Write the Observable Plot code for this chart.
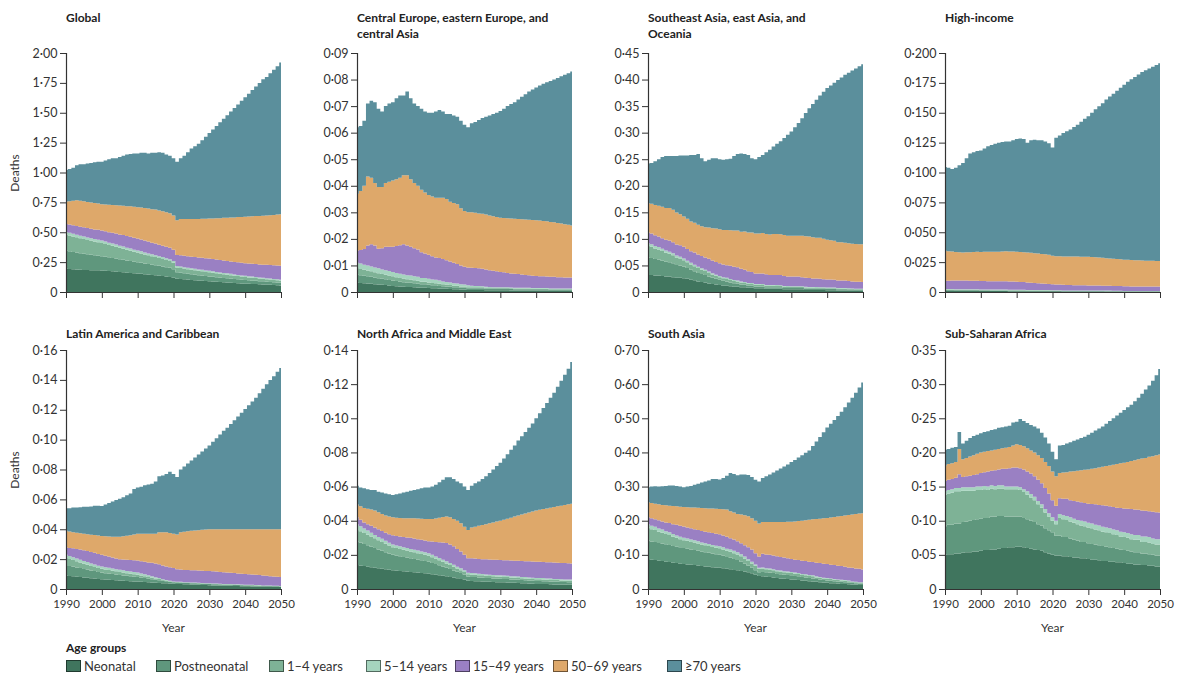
<!DOCTYPE html>
<html><head><meta charset="utf-8">
<script src="https://cdn.jsdelivr.net/npm/d3@7"></script>
<script src="https://cdn.jsdelivr.net/npm/@observablehq/plot@0.6"></script>
<style>
body{margin:0;background:#fff;font-family:Lato,"Liberation Sans",sans-serif;color:#2a2a2a;}
#root{position:relative;width:1178px;height:677px;overflow:hidden;background:#fff;}
.title{position:absolute;font-weight:700;font-size:12px;line-height:16px;color:#222;white-space:nowrap;}
.lab{position:absolute;font-size:12px;color:#333;white-space:nowrap;}
.deaths{position:absolute;font-size:12px;color:#333;white-space:nowrap;}
.leg{position:absolute;font-size:13px;color:#333;white-space:nowrap;line-height:16px;}
.sw{position:absolute;width:13px;height:10px;border:1px solid rgba(0,0,0,0.5);}
svg{position:absolute;}
</style></head><body><div id="root"></div>
<script>
// ---- categories ----
const YEARS = Array.from({length: 61}, (_, i) => 1990 + i);
const YEAR_TICKS = [1990, 2000, 2010, 2020, 2030, 2040, 2050];
const GROUPS = ["Neonatal", "Postneonatal", "1–4 years", "5–14 years", "15–49 years", "50–69 years", "≥70 years"];
const COLORS = ["#40755e", "#5f977d", "#7eb296", "#a5d4be", "#9a80c3", "#dea86a", "#5b8f9c"];

// ---- values, thousands of deaths, 1990..2050 ----
// Global
const glo_neo = [195,193,191,189,187,185,184,183,182,181,180,178,175,173,170,168,165,162,160,157,155,152,149,146,143,140,137,134,130,126,120,110,108,106,104,101,99,97,95,92,90,88,86,84,82,80,78,76,74,72,70,69,67,66,64,63,61,60,58,57,55];
const glo_pne = [150,147,144,141,138,135,132,129,126,123,120,117,115,112,110,107,105,102,100,97,95,93,90,88,86,84,82,80,78,76,70,55,53,51,49,47,46,44,43,41,40,39,38,37,36,35,34,33,32,31,30,29,28,28,27,26,25,24,24,23,22];
const glo_c14 = [135,133,130,128,125,123,120,118,115,113,110,107,104,101,98,95,92,89,86,83,80,78,75,73,70,68,65,63,60,58,55,40,40,39,38,38,37,36,36,35,35,34,33,32,31,30,29,28,27,26,25,24,24,23,22,21,21,20,19,19,18];
const glo_c514 = [22,22,22,21,21,21,21,20,20,20,20,20,19,19,19,18,18,18,18,17,17,17,17,16,16,16,15,15,15,15,14,12,12,12,12,12,12,12,12,12,12,12,11,11,11,11,11,10,10,10,10,10,10,9,9,9,9,9,8,8,8];
const glo_a1549 = [68,70,72,73,75,77,78,80,81,83,84,86,88,90,92,94,96,97,99,100,100,100,99,99,98,97,96,96,95,95,95,93,94,95,96,97,98,99,101,102,103,103,103,103,104,104,104,104,105,105,105,106,107,108,109,110,111,112,114,115,117];
const glo_a5069 = [187,195,205,215,218,218,219,219,220,220,221,225,229,233,237,242,246,250,255,259,263,267,272,276,280,285,287,288,289,290,286,290,303,307,311,315,319,323,327,331,335,340,346,351,357,362,368,373,379,384,390,394,398,402,406,410,414,418,422,426,430];
const glo_a70 = [263,270,276,293,306,311,321,331,341,350,355,367,380,392,394,406,418,432,437,447,450,458,463,462,472,475,488,489,483,480,480,490,510,530,560,590,609,629,656,687,715,744,773,802,829,858,886,916,943,972,1000,1028,1056,1084,1113,1141,1159,1187,1215,1242,1270];

// Central Europe, eastern Europe, and central Asia
const cee_neo = [3.5,3.4,3.3,3.2,3.1,2.9,2.8,2.7,2.6,2.4,2.3,2.2,2.1,2.0,1.9,1.9,1.8,1.7,1.6,1.6,1.5,1.4,1.4,1.3,1.2,1.2,1.1,1.0,1.0,0.9,0.9,0.8,0.8,0.8,0.8,0.8,0.7,0.7,0.7,0.7,0.7,0.7,0.7,0.6,0.6,0.6,0.6,0.6,0.6,0.6,0.6,0.6,0.6,0.6,0.5,0.5,0.5,0.5,0.5,0.5,0.5];
const cee_pne = [3.0,2.9,2.8,2.7,2.6,2.5,2.4,2.3,2.2,2.1,2.0,1.9,1.8,1.7,1.6,1.6,1.5,1.4,1.3,1.3,1.2,1.1,1.1,1.0,1.0,0.9,0.9,0.8,0.8,0.7,0.7,0.6,0.6,0.6,0.6,0.6,0.5,0.5,0.5,0.5,0.5,0.5,0.5,0.5,0.4,0.4,0.4,0.4,0.4,0.4,0.4,0.4,0.4,0.4,0.3,0.3,0.3,0.3,0.3,0.3,0.3];
const cee_c14 = [2.5,2.4,2.3,2.2,2.1,2.0,1.9,1.8,1.7,1.7,1.6,1.5,1.4,1.4,1.3,1.2,1.1,1.1,1.0,1.0,0.9,0.9,0.8,0.8,0.7,0.7,0.6,0.6,0.6,0.5,0.5,0.4,0.4,0.4,0.4,0.4,0.4,0.3,0.3,0.3,0.3,0.3,0.3,0.3,0.3,0.3,0.3,0.3,0.3,0.2,0.2,0.2,0.2,0.2,0.2,0.2,0.2,0.2,0.2,0.2,0.2];
const cee_c514 = [2.0,2.0,1.9,1.9,1.8,1.8,1.8,1.7,1.7,1.7,1.6,1.6,1.6,1.5,1.5,1.5,1.5,1.5,1.4,1.4,1.4,1.3,1.3,1.2,1.1,1.0,1.0,0.9,0.8,0.8,0.7,0.7,0.6,0.5,0.5,0.4,0.4,0.4,0.3,0.3,0.3,0.3,0.3,0.3,0.3,0.3,0.3,0.3,0.3,0.3,0.3,0.3,0.3,0.3,0.3,0.3,0.3,0.3,0.3,0.3,0.3];
const cee_a1549 = [4.5,5.1,5.9,7.5,8.4,8.3,7.4,8.0,8.8,9.1,9.5,10.1,10.7,11.4,11.2,10.8,10.6,10.3,9.7,9.2,9.0,8.8,8.4,8.5,8.4,8.2,7.9,7.7,7.3,7.1,6.7,6.7,6.7,6.7,6.6,6.6,6.5,6.3,6.2,6.0,5.7,5.6,5.4,5.3,5.3,5.2,5.0,4.8,4.7,4.6,4.5,4.4,4.4,4.3,4.4,4.4,4.3,4.3,4.2,4.2,4.2];
const cee_a5069 = [21.5,22.2,23.8,26.0,25.0,23.5,23.2,23.0,24.0,24.5,25.0,25.2,25.4,26.0,26.5,25.5,24.5,24.0,23.5,23.0,22.5,22.5,22.5,22.7,23.1,23.0,22.5,22.5,22.5,21.5,21.0,20.8,20.9,20.8,20.7,20.7,20.7,20.6,20.5,20.4,20.5,20.5,20.6,20.7,20.7,20.7,20.8,20.9,20.9,21.0,21.0,21.0,20.8,20.8,20.7,20.6,20.4,20.2,20.0,19.8,19.5];
const cee_a70 = [25.0,24.5,24.5,27.5,29.0,30.5,29.5,28.5,29.0,29.5,29.5,30.5,31.0,30.0,31.5,30.5,30.0,30.0,30.5,30.5,31.0,31.5,32.5,33.0,32.5,32.0,33.0,33.0,33.0,33.0,32.5,32.0,33.5,34.2,35.2,36.0,36.8,37.7,38.5,39.3,40.2,41.1,42.2,43.1,43.9,45.0,46.1,47.2,48.3,49.2,50.0,50.9,51.7,52.4,53.1,53.7,54.6,55.4,56.3,57.1,58.0];

// Southeast Asia, east Asia, and Oceania
const sea_neo = [32,32,31,31,30,29,29,28,27,27,26,25,23,22,20,19,18,16,15,14,13,12,12,11,10,10,9,9,8,8,7,7,7,6,6,6,6,6,5,5,5,5,5,5,4,4,4,4,4,4,3.5,3.5,3.5,3,3,3,3,3,2.5,2.5,2.5];
const sea_pne = [33,32,31,30,29,28,27,26,24,23,22,20,19,17,16,15,14,13,12,11,10,9,8,7,6.5,6,5,4.5,4,4,3.5,3.5,3.5,3,3,3,3,3,2.5,2.5,2.5,2.5,2.5,2.5,2.5,2,2,2,2,2,2,2,2,2,2,2,1.5,1.5,1.5,1.5,1.5];
const sea_c14 = [22,21,20,19,18,17,16,15,14,13,12,11,10,9.5,9,8,7.5,7,6,5.5,5,4.8,4.6,4.4,4.2,4,3.8,3.6,3.4,3.2,3,3,2.9,2.8,2.7,2.6,2.5,2.3,2.2,2.1,2,2,2,1.9,1.9,1.8,1.8,1.7,1.6,1.6,1.5,1.5,1.4,1.4,1.3,1.3,1.2,1.2,1.1,1.1,1];
const sea_c514 = [5,5,4.8,4.6,4.4,4.2,4,3.8,3.5,3.2,3,3,2.9,2.8,2.7,2.6,2.5,2.4,2.2,2.1,2,2,2,1.9,1.9,1.8,1.8,1.7,1.6,1.6,1.5,1.5,1.5,1.5,1.5,1.5,1.5,1.5,1.5,1.5,1.5,1.5,1.5,1.5,1.5,1.5,1.5,1.5,1.5,1.5,1.5,1.4,1.4,1.3,1.3,1.2,1.2,1.1,1.1,1,1];
const sea_a1549 = [20,20,20,20,20,20,21,21,21,22,22,22,22,23,23,23,23,24,24,24,24,24,24,25,25,25,24,23,22,21,20,20,20,20,19,19,19,19,19,18,18,18,18,17,17,17,16,16,16,15,15,15,15,14,14,14,14,13,13,13,13];
const sea_a5069 = [55,56,57,58,59,60,61,61,60,58,57,57,56,56,56,56,57,59,61,63,64,65,66,67,68,69,70,72,73,74,75,75,76,76,76,77,77,77,77,77,77,77,77,78,78,78,78,77,77,76,75,74,73,72,72,71,71,71,71,71,71];
const sea_a70 = [75,77,82.2,87.4,93.6,97.8,98,101.2,106.5,110.8,115,119,125.1,127.7,133.3,128.4,124,127.6,131.8,132.4,132,132.2,133.4,134.7,140.4,144.2,147.4,146.2,146,140.2,140,144,147.1,153.7,159.8,164.9,170,175.2,182.8,189.9,196,204,212,221.1,232.1,241.7,250.7,259.8,267.9,276.9,285.5,291.6,297.7,305.3,310.4,316.5,321.1,326.2,330.8,334.9,339];

// High-income
const hic_neo = [1.0,1.0,1.0,0.9,0.9,0.9,0.9,0.9,0.9,0.9,0.8,0.8,0.8,0.8,0.8,0.8,0.8,0.8,0.7,0.7,0.7,0.7,0.7,0.7,0.7,0.6,0.6,0.6,0.6,0.6,0.6,0.6,0.6,0.5,0.5,0.5,0.5,0.5,0.5,0.5,0.5,0.5,0.5,0.5,0.5,0.5,0.5,0.4,0.4,0.4,0.4,0.4,0.4,0.4,0.4,0.4,0.4,0.4,0.4,0.4,0.4];
const hic_pne = [0.6,0.6,0.6,0.6,0.5,0.5,0.5,0.5,0.5,0.5,0.5,0.5,0.5,0.4,0.4,0.4,0.4,0.4,0.4,0.4,0.4,0.4,0.4,0.3,0.3,0.3,0.3,0.3,0.3,0.3,0.3,0.3,0.3,0.3,0.3,0.3,0.3,0.3,0.3,0.3,0.3,0.3,0.3,0.3,0.3,0.2,0.2,0.2,0.2,0.2,0.2,0.2,0.2,0.2,0.2,0.2,0.2,0.2,0.2,0.2,0.2];
const hic_c14 = [0.4,0.4,0.4,0.4,0.4,0.4,0.4,0.4,0.4,0.4,0.3,0.3,0.3,0.3,0.3,0.3,0.3,0.3,0.3,0.3,0.3,0.3,0.3,0.3,0.3,0.3,0.3,0.3,0.3,0.3,0.2,0.2,0.2,0.2,0.2,0.2,0.2,0.2,0.2,0.2,0.2,0.2,0.2,0.2,0.2,0.2,0.2,0.2,0.2,0.2,0.1,0.1,0.1,0.1,0.1,0.1,0.1,0.1,0.1,0.1,0.1];
const hic_c514 = [0.5,0.5,0.5,0.5,0.5,0.5,0.5,0.5,0.5,0.5,0.5,0.5,0.5,0.5,0.5,0.5,0.5,0.5,0.5,0.5,0.4,0.4,0.4,0.4,0.4,0.4,0.4,0.4,0.4,0.4,0.3,0.3,0.3,0.3,0.3,0.3,0.3,0.3,0.3,0.3,0.3,0.3,0.3,0.3,0.3,0.3,0.3,0.3,0.3,0.3,0.2,0.2,0.2,0.2,0.2,0.2,0.2,0.2,0.2,0.2,0.2];
const hic_a1549 = [7.0,7.0,7.1,7.2,7.3,7.3,7.3,7.2,7.2,7.1,7.1,7.1,7.0,7.0,7.0,6.9,6.9,6.9,6.8,6.8,6.7,6.6,6.5,6.3,6.1,5.9,5.7,5.5,5.3,5.1,5.0,4.9,4.8,4.7,4.6,4.5,4.4,4.4,4.3,4.3,4.2,4.2,4.1,4.1,4.0,4.0,4.0,3.9,3.9,3.9,3.9,3.9,3.8,3.8,3.8,3.8,3.7,3.7,3.7,3.7,3.7];
const hic_a5069 = [25.0,24.6,24.2,23.8,23.6,23.5,23.6,23.8,24.0,24.2,24.3,24.4,24.5,24.6,24.7,24.8,25.0,25.1,25.1,25.1,25.1,25.1,25.0,25.0,25.0,25.0,24.9,24.8,24.6,24.4,24.0,23.7,23.8,23.8,23.9,23.9,24.0,24.0,24.0,24.0,24.0,23.8,23.6,23.5,23.3,23.1,22.9,22.8,22.6,22.4,22.2,22.1,22.0,21.9,21.8,21.7,21.6,21.5,21.5,21.4,21.4];
const hic_a70 = [70.0,69.9,69.2,70.6,72.8,74.9,78.8,82.7,83.5,84.4,85.0,86.4,88.4,89.4,90.3,91.3,91.6,92.0,92.2,93.2,94.4,95.0,94.7,92.0,94.2,95.0,94.8,95.1,94.5,93.4,90.6,99.0,101.0,103.2,104.7,106.3,108.3,110.3,112.9,115.4,117.5,120.7,124.0,126.6,129.4,132.7,135.4,138.2,140.9,143.6,146.5,149.1,151.3,153.4,155.5,157.6,159.3,160.9,162.4,164.0,165.5];

// Latin America and Caribbean
const lac_neo = [9.0,8.7,8.5,8.2,8.0,7.7,7.5,7.2,7.0,6.7,6.5,6.3,6.2,6.0,5.8,5.7,5.5,5.4,5.2,5.1,5.0,4.8,4.7,4.5,4.4,4.2,4.1,3.9,3.8,3.6,3.5,3.4,3.3,3.2,3.1,3.0,2.9,2.8,2.7,2.6,2.5,2.4,2.4,2.3,2.2,2.2,2.1,2.0,2.0,1.9,1.8,1.8,1.7,1.7,1.6,1.6,1.5,1.5,1.4,1.4,1.3];
const lac_pne = [7.0,6.7,6.5,6.2,6.0,5.7,5.5,5.2,5.0,4.7,4.5,4.3,4.2,4.0,3.9,3.7,3.6,3.4,3.3,3.1,3.0,2.8,2.6,2.4,2.2,2.0,1.8,1.6,1.4,1.2,1.0,1.0,1.0,0.9,0.9,0.9,0.9,0.9,0.8,0.8,0.8,0.8,0.8,0.7,0.7,0.7,0.7,0.7,0.6,0.6,0.6,0.6,0.6,0.5,0.5,0.5,0.5,0.5,0.4,0.4,0.4];
const lac_c14 = [5.0,4.7,4.4,4.1,3.8,3.5,3.3,3.0,2.8,2.6,2.5,2.4,2.3,2.2,2.1,2.0,1.9,1.8,1.7,1.6,1.5,1.4,1.3,1.2,1.0,0.9,0.8,0.6,0.5,0.4,0.3,0.3,0.3,0.3,0.3,0.3,0.3,0.3,0.3,0.3,0.3,0.3,0.3,0.3,0.3,0.3,0.3,0.3,0.3,0.3,0.3,0.3,0.3,0.3,0.3,0.2,0.2,0.2,0.2,0.2,0.2];
const lac_c514 = [2.0,2.0,1.9,1.9,1.8,1.8,1.7,1.7,1.6,1.6,1.5,1.5,1.5,1.5,1.5,1.5,1.5,1.5,1.5,1.5,1.5,1.4,1.3,1.1,1.0,0.8,0.7,0.5,0.4,0.3,0.2,0.2,0.2,0.2,0.2,0.2,0.2,0.2,0.2,0.2,0.2,0.2,0.2,0.2,0.2,0.2,0.2,0.2,0.2,0.2,0.2,0.2,0.2,0.2,0.2,0.1,0.1,0.1,0.1,0.1,0.1];
const lac_a1549 = [5.0,5.4,5.9,6.3,6.8,7.3,7.5,7.6,7.8,7.9,8.0,7.8,7.6,7.4,7.2,7.1,7.3,7.5,7.7,7.9,8.0,8.2,8.4,8.6,8.9,9.1,9.1,9.1,9.0,9.0,9.0,8.4,8.2,8.2,8.2,8.2,8.2,8.2,8.2,8.2,8.2,8.1,8.0,7.9,7.8,7.7,7.6,7.5,7.3,7.2,7.1,7.0,6.9,6.8,6.7,6.6,6.5,6.3,6.2,6.1,6.0];
const lac_a5069 = [11.0,11.0,10.8,11.0,10.9,11.0,11.2,11.7,11.9,12.3,12.5,13.0,13.4,13.9,14.5,15.0,15.5,16.0,16.6,17.3,18.0,18.4,18.7,19.2,19.5,20.0,21.5,22.3,22.9,23.0,23.0,23.2,25.0,25.5,26.0,26.4,26.7,27.0,27.4,27.7,28.0,28.2,28.3,28.6,28.8,28.9,29.1,29.3,29.6,29.8,30.0,30.1,30.3,30.5,30.7,31.0,31.2,31.4,31.7,31.8,32.0];
const lac_a70 = [15.0,15.5,16.5,16.8,17.5,18.0,18.3,18.9,19.7,19.9,20.0,21.2,22.3,23.5,24.5,25.5,26.2,27.2,28.0,30.5,31.0,31.5,32.5,33.0,33.5,35.0,37.5,38.0,39.0,41.0,40.0,38.5,42.0,43.7,45.3,47.0,48.8,50.6,52.4,54.2,56.0,58.5,61.0,63.5,66.0,68.0,70.5,73.0,75.5,78.0,80.5,83.0,85.5,88.0,91.0,94.0,97.0,100.0,102.5,105.5,108.0];

// North Africa and Middle East
const nme_neo = [14.0,13.7,13.4,13.1,12.8,12.5,12.2,11.9,11.6,11.3,11.0,10.8,10.6,10.4,10.2,10.0,9.8,9.6,9.4,9.2,9.0,8.7,8.4,8.1,7.8,7.5,7.1,6.7,6.3,5.9,5.5,4.8,4.7,4.6,4.5,4.4,4.3,4.2,4.1,4.0,4.0,3.9,3.8,3.7,3.6,3.5,3.4,3.3,3.2,3.1,3.0,3.0,2.9,2.9,2.8,2.7,2.7,2.6,2.6,2.5,2.5];
const nme_pne = [14.0,13.5,13.0,12.5,12.0,11.5,11.0,10.5,10.0,9.5,9.0,8.8,8.6,8.4,8.2,8.0,7.8,7.6,7.4,7.2,7.0,6.6,6.2,5.8,5.4,5.0,4.6,4.2,3.8,3.4,3.0,2.5,2.4,2.4,2.3,2.3,2.2,2.2,2.1,2.1,2.0,2.0,2.0,1.9,1.9,1.9,1.8,1.8,1.8,1.7,1.7,1.7,1.7,1.6,1.6,1.6,1.6,1.5,1.5,1.5,1.5];
const nme_c14 = [7.0,6.7,6.4,6.2,5.9,5.7,5.4,5.2,4.9,4.7,4.5,4.4,4.3,4.2,4.1,4.0,3.9,3.8,3.7,3.6,3.5,3.3,3.1,2.9,2.7,2.5,2.3,2.1,1.9,1.7,1.5,1.3,1.3,1.3,1.3,1.3,1.2,1.2,1.2,1.2,1.2,1.2,1.2,1.1,1.1,1.1,1.1,1.1,1.0,1.0,1.0,1.0,1.0,0.9,0.9,0.9,0.9,0.9,0.8,0.8,0.8];
const nme_c514 = [3.0,2.8,2.6,2.4,2.2,2.0,1.9,1.8,1.7,1.6,1.5,1.5,1.5,1.5,1.5,1.5,1.5,1.5,1.5,1.5,1.5,1.5,1.4,1.4,1.3,1.3,1.2,1.2,1.1,1.1,1.0,0.9,0.9,0.9,0.9,0.8,0.8,0.8,0.8,0.8,0.8,0.8,0.8,0.8,0.8,0.8,0.8,0.8,0.8,0.8,0.8,0.8,0.8,0.8,0.8,0.7,0.7,0.7,0.7,0.7,0.7];
const nme_a1549 = [4.0,3.8,3.6,3.8,4.1,4.3,4.5,4.6,4.8,4.9,5.5,5.5,5.8,6.0,6.2,6.5,6.6,6.7,6.8,6.9,7.0,7.7,8.5,9.2,10.0,10.7,10.8,10.8,10.4,9.9,9.0,8.5,8.7,8.6,8.6,8.7,8.9,8.9,9.0,9.0,9.0,9.0,9.0,9.2,9.2,9.2,9.3,9.3,9.4,9.5,9.5,9.4,9.4,9.5,9.5,9.6,9.5,9.6,9.6,9.6,9.5];
const nme_a5069 = [7.5,8.0,8.5,9.0,9.5,10.0,10.0,10.0,10.0,10.5,10.5,10.8,10.8,11.0,11.3,11.5,11.9,12.1,12.4,12.6,13.0,13.2,13.7,14.3,15.0,15.5,16.0,16.0,16.5,16.5,16.5,16.5,18.0,18.7,19.4,20.0,20.6,21.2,21.8,22.4,23.0,23.7,24.4,25.1,25.8,26.5,27.2,27.9,28.6,29.3,30.0,30.5,31.0,31.5,32.0,32.5,33.0,33.5,34.0,34.5,35.0];
const nme_a70 = [11.0,11.0,11.5,11.5,11.5,12.0,12.0,12.5,13.0,13.0,13.0,13.7,14.4,15.0,15.5,16.0,16.5,17.2,17.8,18.5,18.5,19.0,19.7,20.8,21.8,23.0,23.5,23.5,23.0,23.5,23.5,23.5,24.5,25.5,26.0,27.0,28.0,29.5,31.0,32.5,34.0,35.9,37.8,39.7,41.6,44.0,45.9,47.8,49.7,51.6,54.0,56.6,59.2,61.8,64.4,67.0,70.1,73.2,76.3,79.4,83.0];

// South Asia
const sas_neo = [88,86,85,83,82,80,79,77,76,74,73,72,71,70,69,67,66,65,64,63,62,61,59,58,56,55,53,51,49,46,42,38,37,36,35,34,32,31,30,29,28,27,26,25,24,23,22,21,20,19,18,17,17,16,15,15,14,13,13,12,12];
const sas_pne = [54,53,53,52,51,51,50,49,48,48,47,46,45,44,43,42,42,41,40,39,38,37,35,34,32,30,27,23,19,16,13,11,13,13,13,13,12,12,12,12,12,11,11,10,10,9,9,8,8,7,7,7,6,6,6,5,5,5,4,4,4];
const sas_c14 = [38,36,35,33,32,30,29,27,26,24,23,23,22,22,21,21,20,20,19,19,19,18,18,17,17,16,16,15,14,13,13,10,10,9,9,8,8,8,7,7,7,7,7,6,6,6,6,5,5,5,5,5,4,4,4,4,4,3,3,3,3];
const sas_c514 = [10,10,9,9,9,8,8,8,7,7,7,7,7,7,7,6,6,6,6,6,6,6,6,7,7,7,6,6,5,5,4,3,3,3,3,3,3,3,3,3,3,3,3,3,3,3,3,3,2,2,2,2,2,2,2,2,2,1,1,1,1];
const sas_a1549 = [20,22,22,24,24,26,27,29,31,32,33,32,33,32,33,34,34,34,35,35,35,35,35,33,33,32,32,33,35,36,33,33,40,40,40,40,41,40,40,39,38,38,38,39,39,39,39,40,41,41,41,40,41,40,40,39,38,40,39,39,37];
const sas_a5069 = [44,45,46,47,48,50,51,53,54,56,57,59.5,61,63.5,65,67,68.5,70,71.5,73,74,76.5,80,79,79,80,84,88,91,91,95,97,93,95,96,98,100,102.5,104.5,107,109,112,114,117,119.5,123,125,128,130,133,135,138.5,141,144.5,147,150,153.5,156,159.5,162,165];
const sas_a70 = [44,48,51,52,55,57,59,60,60,59,58,60.5,63,66.5,70,75,78.5,82,86.5,87,87,91.5,99,112,113,113,117,119,121,121,120,123,129,134,139,145,151,156.5,162.5,168,175,180,186,192,197.5,203,215,227,239,252,265,274.5,284,294.5,305,317,329.5,342,355.5,369,383];

// Sub-Saharan Africa
const ssa_neo = [50,51,51,52,52,53,54,54,55,55,56,57,57,58,58,59,60,60,61,61,62,62,61,60,59,58,57,56,54,52,50,49,49,48,48,47,46,46,45,45,44,43,43,42,41,41,40,40,39,39,38,37,37,36,36,35,35,34,34,33,33];
const ssa_pne = [42,43,43,44,44,45,45,46,46,47,47,47,47,48,48,48,47,46,45,45,44,44,43,42,41,40,38,37,35,34,33,29,29,28,28,27,26,25,24,24,23,23,22,22,22,21,21,20,20,19,19,19,18,18,18,17,17,17,16,16,16];
const ssa_c14 = [46,46,47,47,47,46,45,44,43,43,42,42,41,41,40,40,40,40,40,40,40,39,38,36,34,32,29,26,23,20,17,17,26,26,25,25,25,24,24,23,23,23,22,22,21,21,21,20,20,19,19,19,18,18,18,17,17,17,16,16,16];
const ssa_c514 = [5,5,5,5,5,5,5,5,5,5,5,5,5,5,5,5,5,4,4,4,4,4,4,5,5,5,5,5,5,5,5,5,6,6,6,6,6,6,7,7,7,7,7,7,7,7,7,7,7,7,7,7,7,7,7,8,8,8,8,8,8];
const ssa_a1549 = [15,15,15,15,20,15,16,17,18,18,20,20,22,21,23,23,24,26,27,28,28,28,29,29,30,30,31,31,31,29,25,22,23,24,25,25,26,27,27,27,28,28.5,30,30,31.5,32,32,33,33,34.5,35,35.5,37,37.5,37,38,37.5,38,39,39.5,39];
const ssa_a5069 = [23,23,23,23,37,26,27,28,29,30,30,30,30,30,30,30,30,31,31,32,34,34,34,34,34,35,36,37,38,40,42,43,37,38.5,39,42,43.5,45,47,48.5,50,51.5,53,55,56.5,58,60,62,64,65.5,67,68.5,70.5,72,74,76,77.5,79.5,81.5,83.5,85];
const ssa_a70 = [23,22,23,22,25,23,25,27,28,28,28,29,29,30,30,31,31,31,31,34,33,38,37,37,37,38,39,37,36,33,29,25,40,40.5,42,43,44.5,46,47,48.5,51,53,55,57,59,62,65,68,71,74,77,80,82.5,86.5,90,95,100,104.5,110.5,117,125];

// ---- y tick values (deaths, millions) ----
const gloTicks = [0, 0.25, 0.5, 0.75, 1, 1.25, 1.5, 1.75, 2];
const ceeTicks = [0, 0.01, 0.02, 0.03, 0.04, 0.05, 0.06, 0.07, 0.08, 0.09];
const seaTicks = [0, 0.05, 0.1, 0.15, 0.2, 0.25, 0.3, 0.35, 0.4, 0.45];
const hicTicks = [0, 0.025, 0.05, 0.075, 0.1, 0.125, 0.15, 0.175, 0.2];
const lacTicks = [0, 0.02, 0.04, 0.06, 0.08, 0.1, 0.12, 0.14, 0.16];
const nmeTicks = [0, 0.02, 0.04, 0.06, 0.08, 0.1, 0.12, 0.14];
const sasTicks = [0, 0.1, 0.2, 0.3, 0.4, 0.5, 0.6, 0.7];
const ssaTicks = [0, 0.05, 0.1, 0.15, 0.2, 0.25, 0.3, 0.35];

const TITLES = [
  ["Global"],
  ["Central Europe, eastern Europe, and", "central Asia"],
  ["Southeast Asia, east Asia, and", "Oceania"],
  ["High-income"],
  ["Latin America and Caribbean"],
  ["North Africa and Middle East"],
  ["South Asia"],
  ["Sub-Saharan Africa"]
];

const panels = [
  {series: [glo_neo, glo_pne, glo_c14, glo_c514, glo_a1549, glo_a5069, glo_a70], ticks: gloTicks, dec: 2},
  {series: [cee_neo, cee_pne, cee_c14, cee_c514, cee_a1549, cee_a5069, cee_a70], ticks: ceeTicks, dec: 2},
  {series: [sea_neo, sea_pne, sea_c14, sea_c514, sea_a1549, sea_a5069, sea_a70], ticks: seaTicks, dec: 2},
  {series: [hic_neo, hic_pne, hic_c14, hic_c514, hic_a1549, hic_a5069, hic_a70], ticks: hicTicks, dec: 3},
  {series: [lac_neo, lac_pne, lac_c14, lac_c514, lac_a1549, lac_a5069, lac_a70], ticks: lacTicks, dec: 2},
  {series: [nme_neo, nme_pne, nme_c14, nme_c514, nme_a1549, nme_a5069, nme_a70], ticks: nmeTicks, dec: 2},
  {series: [sas_neo, sas_pne, sas_c14, sas_c514, sas_a1549, sas_a5069, sas_a70], ticks: sasTicks, dec: 2},
  {series: [ssa_neo, ssa_pne, ssa_c14, ssa_c514, ssa_a1549, ssa_a5069, ssa_a70], ticks: ssaTicks, dec: 2}
];

// ---- layout ----
const AX = [66, 357, 648, 945];   // x of each column's y-axis
const PT = [53, 350];             // top of plot area per row
const PW = 215, PH = 239;
const ML = 50, MR = 18, MT = 8, MB = 30;
const FONT = 'Lato, "Liberation Sans", sans-serif';

const root = document.getElementById("root");
const fmt = dec => d => d === 0 ? "0" : d.toFixed(dec).replace(".", "·");

function addDiv(cls, text, left, top) {
  const el = document.createElement("div");
  el.className = cls;
  el.innerHTML = text;
  el.style.left = left + "px";
  el.style.top = top + "px";
  root.appendChild(el);
  return el;
}

panels.forEach((p, i) => {
  const row = i < 4 ? 0 : 1, col = i % 4;
  const bottom = row === 1;
  const rows = [];
  p.series.forEach((arr, g) => arr.forEach((v, k) => rows.push({year: YEARS[k], group: GROUPS[g], value: v / 1000})));
  const svg = Plot.plot({
    width: ML + PW + MR, height: MT + PH + MB,
    marginLeft: ML, marginRight: MR, marginTop: MT, marginBottom: MB,
    style: {fontFamily: FONT, fontSize: "12.5px", color: "#333", background: "transparent", overflow: "visible"},
    x: {domain: [1990, 2050]},
    y: {domain: [0, p.ticks[p.ticks.length - 1]]},
    color: {domain: GROUPS, range: COLORS},
    marks: [
      Plot.areaY(rows, {x: "year", y: "value", fill: "group", order: GROUPS, curve: "step"}),
      Plot.axisY({ticks: p.ticks, tickFormat: fmt(p.dec), tickSize: 6, tickPadding: 3, label: null, stroke: "#333"}),
      Plot.axisX({ticks: YEAR_TICKS, tickFormat: bottom ? (d => String(d)) : (() => ""), tickSize: 6, tickPadding: 4, fontSize: 11.5, label: null, stroke: "#333"}),
      Plot.ruleX([1990], {stroke: "#333", strokeWidth: 1.2}),
      Plot.ruleY([0], {stroke: "#333", strokeWidth: 1.2})
    ]
  });
  svg.style.left = (AX[col] - ML) + "px";
  svg.style.top = (PT[row] - MT) + "px";
  root.appendChild(svg);

  // panel title
  addDiv("title", TITLES[i].join("<br>"), AX[col], row === 0 ? 10 : 326);

  // x axis label
  if (bottom) {
    const y = addDiv("lab", "Year", AX[col] + PW / 2, 620);
    y.style.transform = "translateX(-50%)";
  }
  // y axis label
  if (col === 0) {
    const d = addDiv("deaths", "Deaths", 15, PT[row] + PH * 0.5 - 8);
    d.style.lineHeight = "16px";
    d.style.transform = "translateX(-50%) rotate(-90deg)";
    d.style.transformOrigin = "50% 50%";
  }
});

// legend
addDiv("title", "Age groups", 66, 640);
const LEG_X = [66, 156, 269, 366, 455, 553, 667];
GROUPS.forEach((g, i) => {
  const sw = document.createElement("div");
  sw.className = "sw";
  sw.style.left = LEG_X[i] + "px";
  sw.style.top = "660px";
  sw.style.background = COLORS[i];
  root.appendChild(sw);
  addDiv("leg", g, LEG_X[i] + 18, 658);
});
</script></body></html>
